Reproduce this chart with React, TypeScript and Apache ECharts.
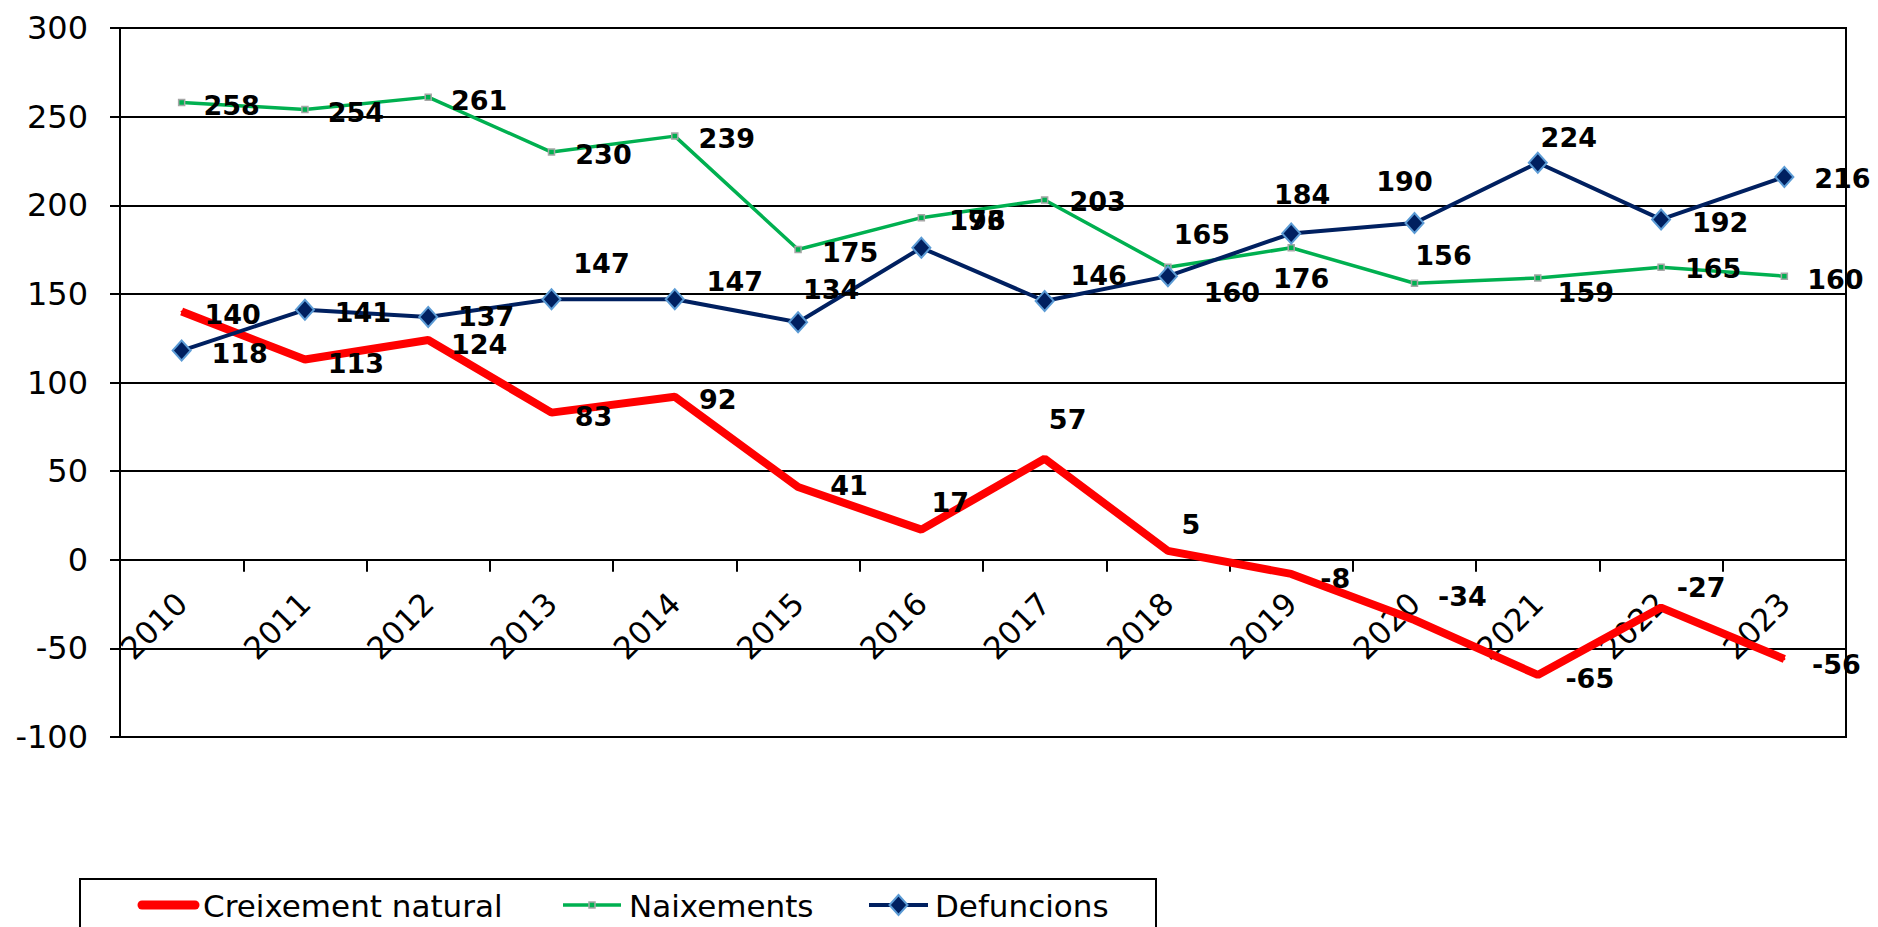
import React, { useEffect, useRef } from "react";
import * as echarts from "echarts";

// ---- data ----
const years = ["2010", "2011", "2012", "2013", "2014", "2015", "2016", "2017", "2018", "2019", "2020", "2021", "2022", "2023"];
const creixement = [140, 113, 124, 83, 92, 41, 17, 57, 5, -8, -34, -65, -27, -56];
const naixements = [258, 254, 261, 230, 239, 175, 193, 203, 165, 176, 156, 159, 165, 160];
const defuncions = [118, 141, 137, 147, 147, 134, 176, 146, 160, 184, 190, 224, 192, 216];
const seriesNames = ["Creixement natural", "Naixements", "Defuncions"];
const yMin = -100;
const yMax = 300;
const yStep = 50;

// ---- label placement (pixel shifts of each value label from its point) ----
const creixShift = [[51, 3], [51, 4], [51, 5], [42, 4], [43, 3], [51, -2], [29, -27], [23, -39], [23, -26], [44, 5], [48, -24], [52, 4], [40, -20], [52, 5]];
const naixShift = [[50, 3], [51, 3], [51, 3], [52, 2], [52, 2], [52, 3], [56, 3], [53, 2], [34, -33], [10, 31], [29, -28], [48, 15], [52, 1], [51, 3]];
const defShift = [[58, 3], [58, 3], [58, 0], [50, -36], [60, -18], [33, -33], [56, -27], [54, -25], [64, 16], [11, -39], [-10, -41], [31, -25], [59, 3], [58, 2]];

const FONT = "DejaVu Sans";
const RED = "#ff0000";
const GREEN = "#00b050";
const NAVY = "#002060";
const LIGHTBLUE = "#5b9bd5";

function withLabels(values: number[], shifts: number[][]) {
  return values.map((v, i) => ({ value: v, label: { offset: shifts[i] } }));
}

const labelBase = {
  show: true,
  position: "inside",
  align: "center",
  verticalAlign: "middle",
  color: "#000",
  fontFamily: FONT,
  fontWeight: "bold",
  fontSize: 27,
};

export default function App() {
  const ref = useRef<HTMLDivElement>(null);
  useEffect(() => {
    if (!ref.current) return;
    const chart = echarts.init(ref.current, null, { renderer: "svg" });
    const legendY = 905;
    chart.setOption({
      animation: false,
      backgroundColor: "#fff",
      grid: {
        left: 120,
        right: 32,
        top: 28,
        bottom: 190,
        show: true,
        borderColor: "#000",
        borderWidth: 2,
        backgroundColor: "transparent",
      },
      xAxis: {
        type: "category",
        data: years,
        boundaryGap: true,
        axisLine: { show: true, onZero: true, lineStyle: { color: "#000", width: 2 } },
        axisTick: { show: true, length: 12, lineStyle: { color: "#000", width: 2 } },
        axisLabel: {
          interval: 0,
          rotate: 45,
          margin: -139,
          color: "#000",
          fontFamily: FONT,
          fontSize: 31,
        },
        splitLine: { show: false },
      },
      yAxis: {
        type: "value",
        min: yMin,
        max: yMax,
        interval: yStep,
        axisLine: { show: true, lineStyle: { color: "#000", width: 2 } },
        axisTick: { show: true, length: 10, lineStyle: { color: "#000", width: 2 } },
        axisLabel: { margin: 32, color: "#000", fontFamily: FONT, fontSize: 32 },
        splitLine: { show: true, lineStyle: { color: "#000", width: 2 } },
      },
      series: [
        {
          name: seriesNames[0],
          type: "line",
          data: withLabels(creixement, creixShift),
          symbol: "circle",
          symbolSize: 2,
          itemStyle: { color: RED },
          lineStyle: { color: RED, width: 8 },
          label: labelBase,
          z: 2,
        },
        {
          name: seriesNames[1],
          type: "line",
          data: withLabels(naixements, naixShift),
          symbol: "rect",
          symbolSize: 6,
          itemStyle: { color: GREEN, borderColor: "#a6a6a6", borderWidth: 1.5 },
          lineStyle: { color: GREEN, width: 3.5 },
          label: labelBase,
          z: 3,
        },
        {
          name: seriesNames[2],
          type: "line",
          data: withLabels(defuncions, defShift),
          symbol: "diamond",
          symbolSize: [18, 20],
          itemStyle: { color: NAVY, borderColor: LIGHTBLUE, borderWidth: 2 },
          lineStyle: { color: NAVY, width: 4 },
          label: labelBase,
          z: 4,
        },
      ],
      graphic: [
        {
          type: "rect",
          shape: { x: 80, y: 879, width: 1076, height: 90 },
          style: { fill: "none", stroke: "#000", lineWidth: 2 },
        },
        {
          type: "line",
          shape: { x1: 142, y1: legendY, x2: 195, y2: legendY },
          style: { stroke: RED, lineWidth: 9, lineCap: "round" },
        },
        {
          type: "text",
          x: 203,
          y: legendY + 1,
          style: { text: seriesNames[0], fontFamily: FONT, fontSize: 31, fill: "#000", verticalAlign: "middle" },
        },
        {
          type: "line",
          shape: { x1: 563, y1: legendY, x2: 621, y2: legendY },
          style: { stroke: GREEN, lineWidth: 3.5 },
        },
        {
          type: "rect",
          shape: { x: 589, y: legendY - 3, width: 6, height: 6 },
          style: { fill: GREEN, stroke: "#a6a6a6", lineWidth: 1.5 },
        },
        {
          type: "text",
          x: 629,
          y: legendY + 1,
          style: { text: seriesNames[1], fontFamily: FONT, fontSize: 31, fill: "#000", verticalAlign: "middle" },
        },
        {
          type: "line",
          shape: { x1: 869, y1: legendY, x2: 928, y2: legendY },
          style: { stroke: NAVY, lineWidth: 4 },
        },
        {
          type: "polygon",
          shape: { points: [[898.5, legendY - 10], [907.5, legendY], [898.5, legendY + 10], [889.5, legendY]] },
          style: { fill: NAVY, stroke: LIGHTBLUE, lineWidth: 2 },
        },
        {
          type: "text",
          x: 935,
          y: legendY + 1,
          style: { text: seriesNames[2], fontFamily: FONT, fontSize: 31, fill: "#000", verticalAlign: "middle" },
        },
      ],
    });
    return () => chart.dispose();
  }, []);
  return (
    <div
      ref={ref}
      style={{ position: "fixed", left: 0, top: 0, width: 1878, height: 927, background: "#fff" }}
    />
  );
}
